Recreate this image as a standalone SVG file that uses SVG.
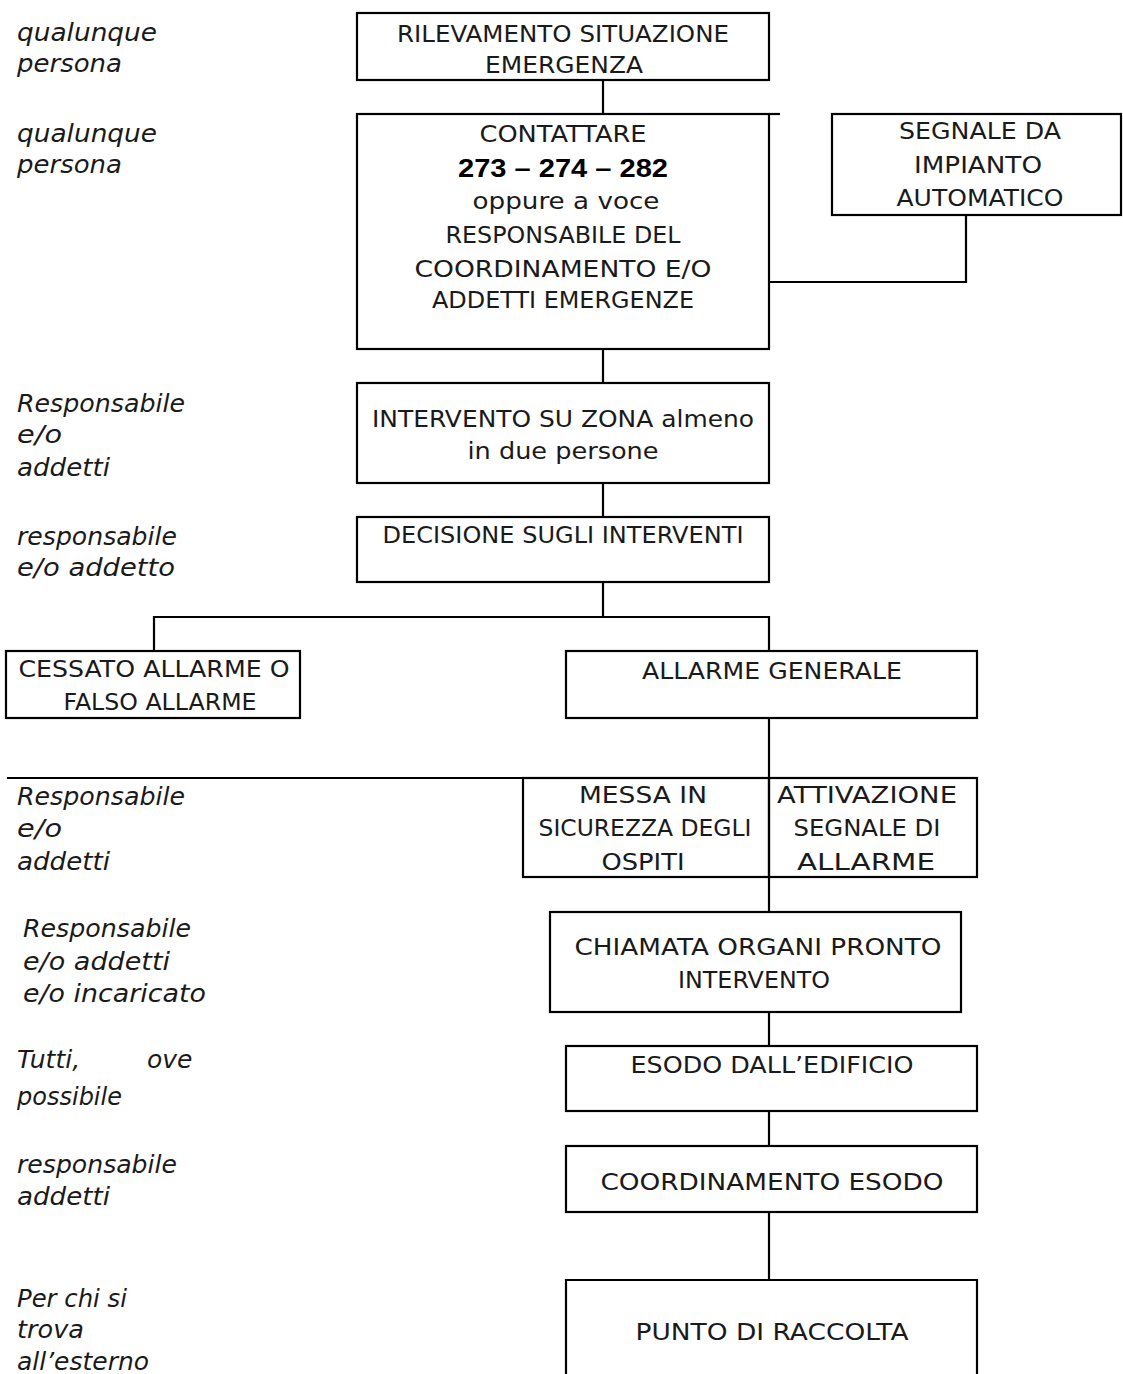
<svg xmlns="http://www.w3.org/2000/svg" width="1123" height="1374" viewBox="0 0 1123 1374">
<style>
.box{fill:none;stroke:#000;stroke-width:2.2}
.ln{fill:none;stroke:#000;stroke-width:2.2}
.t{font-family:"DejaVu Sans","Liberation Sans",sans-serif;font-size:23px;fill:#1a1a1a;text-anchor:middle}
.b{font-family:"Liberation Sans",Arial,sans-serif;font-size:26px;font-weight:bold;fill:#000;text-anchor:middle}
.l{font-family:"DejaVu Sans","Liberation Sans",sans-serif;font-size:25px;font-style:italic;fill:#1a1a1a}
</style>
<rect width="1123" height="1374" fill="#fff"/>
<g id="connectors">
<path class="ln" d="M603 80V114"/>
<path class="ln" d="M769 114H780"/>
<path class="ln" d="M966 215V282H769"/>
<path class="ln" d="M603 349V383"/>
<path class="ln" d="M603 483V517"/>
<path class="ln" d="M603 582V617"/>
<path class="ln" d="M154 651V617H769V651"/>
<path class="ln" d="M769 718V778"/>
<path class="ln" d="M7 778H523"/>
<path class="ln" d="M769 877V912"/>
<path class="ln" d="M769 1012V1046"/>
<path class="ln" d="M769 1111V1146"/>
<path class="ln" d="M769 1212V1280"/>
</g>
<g id="labels">
<text class="l" x="17" y="41" textLength="140" lengthAdjust="spacingAndGlyphs">qualunque</text>
<text class="l" x="17" y="72" textLength="105" lengthAdjust="spacingAndGlyphs">persona</text>
<text class="l" x="17" y="142" textLength="140" lengthAdjust="spacingAndGlyphs">qualunque</text>
<text class="l" x="17" y="173" textLength="105" lengthAdjust="spacingAndGlyphs">persona</text>
<text class="l" x="17" y="412" textLength="168" lengthAdjust="spacingAndGlyphs">Responsabile</text>
<text class="l" x="17" y="443" textLength="45" lengthAdjust="spacingAndGlyphs">e/o</text>
<text class="l" x="17" y="476" textLength="93" lengthAdjust="spacingAndGlyphs">addetti</text>
<text class="l" x="17" y="545" textLength="160" lengthAdjust="spacingAndGlyphs">responsabile</text>
<text class="l" x="17" y="576" textLength="158" lengthAdjust="spacingAndGlyphs">e/o addetto</text>
<text class="l" x="17" y="805" textLength="168" lengthAdjust="spacingAndGlyphs">Responsabile</text>
<text class="l" x="17" y="837" textLength="45" lengthAdjust="spacingAndGlyphs">e/o</text>
<text class="l" x="17" y="870" textLength="93" lengthAdjust="spacingAndGlyphs">addetti</text>
<text class="l" x="23" y="937" textLength="168" lengthAdjust="spacingAndGlyphs">Responsabile</text>
<text class="l" x="23" y="970" textLength="147" lengthAdjust="spacingAndGlyphs">e/o addetti</text>
<text class="l" x="23" y="1002" textLength="183" lengthAdjust="spacingAndGlyphs">e/o incaricato</text>
<text class="l" y="1068"><tspan x="17">Tutti,</tspan><tspan x="147">ove</tspan></text>
<text class="l" x="17" y="1105" textLength="105" lengthAdjust="spacingAndGlyphs">possibile</text>
<text class="l" x="17" y="1173" textLength="160" lengthAdjust="spacingAndGlyphs">responsabile</text>
<text class="l" x="17" y="1205" textLength="93" lengthAdjust="spacingAndGlyphs">addetti</text>
<text class="l" x="17" y="1307" textLength="110" lengthAdjust="spacingAndGlyphs">Per chi si</text>
<text class="l" x="17" y="1338" textLength="67" lengthAdjust="spacingAndGlyphs">trova</text>
<text class="l" x="17" y="1370" textLength="132" lengthAdjust="spacingAndGlyphs">all’esterno</text>
</g>
<g id="n1"><rect class="box" x="357" y="13" width="412" height="67"/>
<text class="t" x="563" y="42" textLength="332" lengthAdjust="spacingAndGlyphs">RILEVAMENTO SITUAZIONE</text>
<text class="t" x="564" y="73" textLength="158" lengthAdjust="spacingAndGlyphs">EMERGENZA</text></g>
<g id="n2"><rect class="box" x="357" y="114" width="412" height="235"/>
<text class="t" x="563" y="142" textLength="167" lengthAdjust="spacingAndGlyphs">CONTATTARE</text>
<text class="b" x="563" y="177" textLength="210" lengthAdjust="spacingAndGlyphs">273 – 274 – 282</text>
<text class="t" x="566" y="209" textLength="187" lengthAdjust="spacingAndGlyphs">oppure a voce</text>
<text class="t" x="563" y="243" textLength="235" lengthAdjust="spacingAndGlyphs">RESPONSABILE DEL</text>
<text class="t" x="563" y="277" textLength="297" lengthAdjust="spacingAndGlyphs">COORDINAMENTO E/O</text>
<text class="t" x="563" y="308" textLength="262" lengthAdjust="spacingAndGlyphs">ADDETTI EMERGENZE</text></g>
<g id="n3"><rect class="box" x="832" y="114" width="289" height="101"/>
<text class="t" x="980" y="139" textLength="162" lengthAdjust="spacingAndGlyphs">SEGNALE DA</text>
<text class="t" x="978" y="173" textLength="128" lengthAdjust="spacingAndGlyphs">IMPIANTO</text>
<text class="t" x="980" y="206" textLength="167" lengthAdjust="spacingAndGlyphs">AUTOMATICO</text></g>
<g id="n4"><rect class="box" x="357" y="383" width="412" height="100"/>
<text class="t" x="563" y="427" textLength="382" lengthAdjust="spacingAndGlyphs">INTERVENTO SU ZONA almeno</text>
<text class="t" x="563" y="459" textLength="191" lengthAdjust="spacingAndGlyphs">in due persone</text></g>
<g id="n5"><rect class="box" x="357" y="517" width="412" height="65"/>
<text class="t" x="563" y="543" textLength="361" lengthAdjust="spacingAndGlyphs">DECISIONE SUGLI INTERVENTI</text></g>
<g id="n6"><rect class="box" x="6" y="651" width="294" height="67"/>
<text class="t" x="154" y="677" textLength="271" lengthAdjust="spacingAndGlyphs">CESSATO ALLARME O</text>
<text class="t" x="160" y="710" textLength="193" lengthAdjust="spacingAndGlyphs">FALSO ALLARME</text></g>
<g id="n7"><rect class="box" x="566" y="651" width="411" height="67"/>
<text class="t" x="772" y="679" textLength="260" lengthAdjust="spacingAndGlyphs">ALLARME GENERALE</text></g>
<g id="n8"><rect class="box" x="523" y="778" width="246" height="99"/>
<text class="t" x="643" y="803" textLength="128" lengthAdjust="spacingAndGlyphs">MESSA IN</text>
<text class="t" x="645" y="836" textLength="213" lengthAdjust="spacingAndGlyphs">SICUREZZA DEGLI</text>
<text class="t" x="643" y="870" textLength="83" lengthAdjust="spacingAndGlyphs">OSPITI</text></g>
<g id="n9"><rect class="box" x="769" y="778" width="208" height="99"/>
<text class="t" x="867" y="803" textLength="180" lengthAdjust="spacingAndGlyphs">ATTIVAZIONE</text>
<text class="t" x="867" y="836" textLength="147" lengthAdjust="spacingAndGlyphs">SEGNALE DI</text>
<text class="t" x="866" y="870" textLength="138" lengthAdjust="spacingAndGlyphs">ALLARME</text></g>
<g id="n10"><rect class="box" x="550" y="912" width="411" height="100"/>
<text class="t" x="758" y="955" textLength="367" lengthAdjust="spacingAndGlyphs">CHIAMATA ORGANI PRONTO</text>
<text class="t" x="754" y="988" textLength="152" lengthAdjust="spacingAndGlyphs">INTERVENTO</text></g>
<g id="n11"><rect class="box" x="566" y="1046" width="411" height="65"/>
<text class="t" x="772" y="1073" textLength="283" lengthAdjust="spacingAndGlyphs">ESODO DALL’EDIFICIO</text></g>
<g id="n12"><rect class="box" x="566" y="1146" width="411" height="66"/>
<text class="t" x="772" y="1190" textLength="343" lengthAdjust="spacingAndGlyphs">COORDINAMENTO ESODO</text></g>
<g id="n13"><path class="box" d="M566 1376V1280H977V1376"/>
<text class="t" x="772" y="1340" textLength="273" lengthAdjust="spacingAndGlyphs">PUNTO DI RACCOLTA</text></g>
</svg>
